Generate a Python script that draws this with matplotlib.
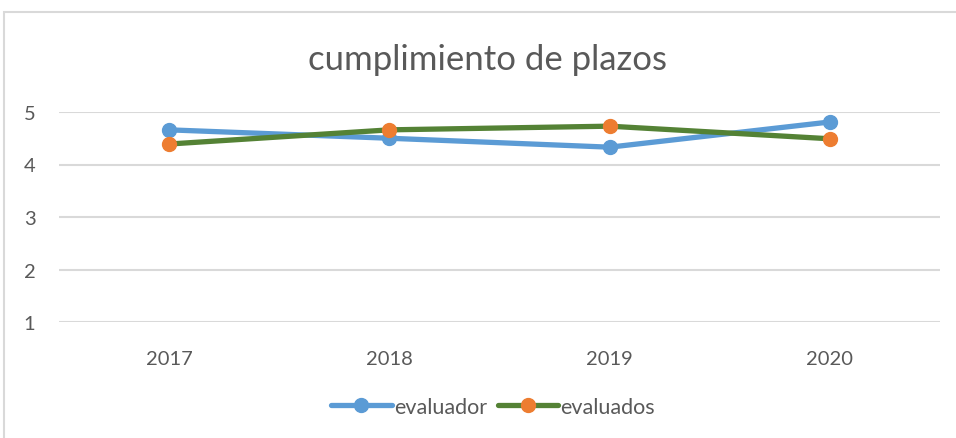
import matplotlib
matplotlib.use("Agg")
from matplotlib import pyplot as plt
from matplotlib.patches import Rectangle

# data
years = ["2017", "2018", "2019", "2020"]
evaluador = [4.66, 4.50, 4.33, 4.81]
evaluados = [4.39, 4.66, 4.73, 4.49]
y_ticks = [1, 2, 3, 4, 5]

plt.rcParams['font.family'] = ['Lato', 'DejaVu Sans']
txt = '#595959'

fig = plt.figure(figsize=(9.56, 4.39), dpi=100)
# chart border (Excel style), right and bottom edges fall outside the picture
fig.patches.append(Rectangle((4 / 956, -0.1), 1.5, (439 - 13) / 439 + 0.1,
                             transform=fig.transFigure, fill=False,
                             edgecolor='#D9D9D9', lw=1.5))

ax = fig.add_axes([59 / 956, 1 - 323 / 439, (940 - 59) / 956, (323 - 113) / 439])
x = list(range(len(years)))
ax.plot(x, evaluador, color='#5B9BD5', lw=3.8, marker='o', ms=10,
        mfc='#5B9BD5', mec='#5B9BD5', label='evaluador', solid_capstyle='round')
ax.plot(x, evaluados, color='#548235', lw=3.8, marker='o', ms=10,
        mfc='#ED7D31', mec='#ED7D31', label='evaluados', solid_capstyle='round')

ax.set_xlim(-0.5, 3.5)
ax.set_ylim(1, 5)
ax.set_yticks(y_ticks)
ax.set_xticks(x)
ax.set_xticklabels(years)
ax.grid(axis='y', color='#D9D9D9', lw=1.5)
ax.set_axisbelow(True)
for s in ax.spines.values():
    s.set_visible(False)
ax.tick_params(length=0, labelsize=14.5, colors=txt)
ax.tick_params(axis='x', pad=20)
ax.tick_params(axis='y', pad=17)

fig.text(487 / 956, 1 - 60 / 439, "cumplimiento de plazos", ha='center', va='center',
         fontsize=25, color=txt)

fig.legend(loc='center', bbox_to_anchor=(493 / 956, 1 - 408 / 439), ncol=2,
           frameon=False, fontsize=15.5, labelcolor=txt, handlelength=2.8,
           handletextpad=0.1, columnspacing=0.5)

fig.savefig("out.png", dpi=100)
